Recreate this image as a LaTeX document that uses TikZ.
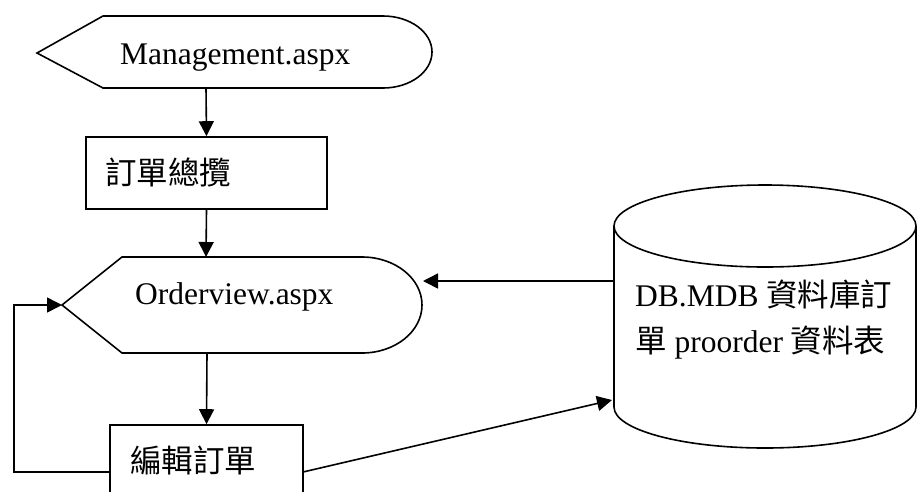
\documentclass[tikz,border=0pt]{standalone}
\usepackage{fontspec}
\setmainfont{Liberation Serif}
\newfontfamily\cjk{Noto Sans CJK TC}
\usetikzlibrary{arrows.meta}
\tikzset{
  shapeline/.style={draw=black, line width=1.6pt},
  conn/.style={draw=black, line width=1.6pt, -{Triangle[length=15pt,width=15pt]}},
  txt/.style={inner sep=0pt, anchor=base west, font=\fontsize{31.5}{40}\selectfont},
  boxnode/.style={shapeline, rectangle, inner sep=0pt}
}
\begin{document}
\begin{tikzpicture}[x=1pt,y=-1pt]
\useasboundingbox (0,0) rectangle (917,491);
\clip (0,0) rectangle (917,491);
\fill[white] (0,0) rectangle (917,491);
% Management display shape
\draw[shapeline] (37,53) -- (103,16) -- (383,16) arc[start angle=-90,end angle=90,x radius=49,y radius=36] -- (103,88) -- cycle;
\coordinate (mgmtS) at (206,88);
\node[txt] (mgmt) at (120,64) {Management.aspx};
% Order overview box
\node[boxnode, minimum width=241pt, minimum height=72pt] (ovbox) at (206.5,173) {};
\node[txt] (ovtxt) at (105,184) {\cjk 訂單總攬};
% Orderview display shape
\draw[shapeline] (62,305) -- (122,257) -- (362,257) arc[start angle=-90,end angle=90,x radius=60,y radius=48] -- (122,353) -- cycle;
\coordinate (ordN) at (206,257);
\coordinate (ordS) at (207,353);
\coordinate (ordW) at (62,305);
\coordinate (ordE) at (423,281);
\node[txt] (ordtxt) at (135,304) {Orderview.aspx};
% Edit order box (bottom clipped)
\node[boxnode, minimum width=193pt, minimum height=140pt] (edbox) at (206.5,495) {};
\node[txt] (edtxt) at (130,472) {\cjk 編輯訂單};
\coordinate (edW) at (110,472);
\coordinate (edE) at (303,472);
\coordinate (loopA) at (14,472);
\coordinate (loopB) at (14,305);
% Database cylinder
\draw[shapeline, fill=white] (614,226) -- (614,407) arc[start angle=180,end angle=0,x radius=151,y radius=41] -- (916,226);
\draw[shapeline] (765,226) ellipse[x radius=151,y radius=41];
\coordinate (dbW) at (614,281);
\coordinate (dbIn) at (612,400);
\node[txt] (db1) at (635,306) {DB.MDB {\cjk 資料庫訂}};
\node[txt] (db2) at (635,352) {{\cjk 單} proorder {\cjk 資料表}};
% connectors
\draw[conn] (mgmtS) -- (ovbox.north);
\draw[conn] (ovbox.south) -- (ordN);
\draw[conn] (ordS) -- (edbox.north);
\draw[conn] (dbW) -- (ordE);
\draw[conn] (edE) -- (dbIn);
\draw[conn] (edW) -- (loopA) -- (loopB) -- (ordW);
\end{tikzpicture}
\end{document}
